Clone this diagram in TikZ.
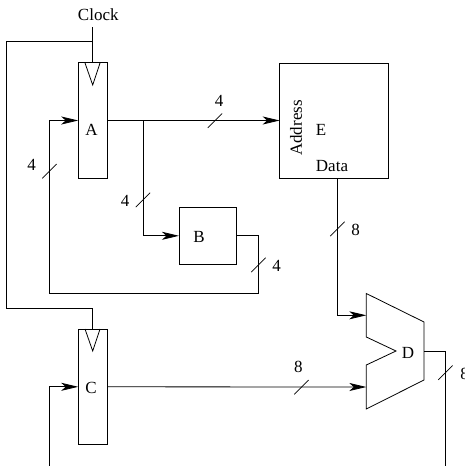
\documentclass[tikz,border=0pt]{standalone}
\usepackage{fontspec}
\setmainfont{Liberation Serif}
\usetikzlibrary{arrows.meta,calc}
\tikzset{
    wire/.style={line width=0.8pt},
    feed/.style={wire,-{Stealth[length=17pt,width=8pt,inset=4.5pt]}},
    block/.style={draw,line width=0.8pt,inner sep=0pt,outer sep=0pt},
    regbox/.style={block,minimum width=29pt,minimum height=115.5pt},
    lbl/.style={inner sep=0pt,font=\fontsize{17}{20}\selectfont},
}
\begin{document}
\begin{tikzpicture}[x=1pt,y=-1pt]
    \useasboundingbox (0,0) rectangle (465,466);

    % blocks
    \node[regbox] (A) at (92.7,120.5) {};
    \node[regbox] (C) at (92.7,386.8) {};
    \node[block,minimum width=57.7pt,minimum height=57.5pt] (B) at (207.8,235.8) {};
    \node[block,minimum width=108.3pt,minimum height=115pt] (E) at (333.8,120.5) {};

    % mux
    \coordinate (Dtop) at (366.3,315.3);
    \coordinate (Dbot) at (366.3,387);
    \coordinate (Dout) at (424,351);
    \draw[wire,line join=miter] (366.3,293.5) -- (424,322) -- (424,380) -- (366.3,409)
        -- (366.3,365) -- (396,351) -- (366.3,337) -- cycle;

    % clock triangles
    \draw[wire] (85,63) -- (92.7,85) -- (100,63);
    \draw[wire] (85,329) -- (92.7,351) -- (100,329);

    % labels
    \node[lbl] (clock) at (98.3,15) {Clock};
    \node[lbl] (Atext) at (91.5,130) {A};
    \node[lbl] (Btext) at (199,236.5) {B};
    \node[lbl] (Ctext) at (91,388) {C};
    \node[lbl] (Dtext) at (408,353) {D};
    \node[lbl] (Etext) at (321,129.5) {E};
    \node[lbl,rotate=90] (addr) at (296,128) {Address};
    \node[lbl] (data) at (332,166) {Data};

    % clock wiring
    \coordinate (clktop) at (92.7,27);
    \coordinate (clkjoin) at (92.7,41.5);
    \draw[wire] (clktop) -- (A.north);
    \draw[wire] (clkjoin) -- (6,41.5) -- (6,308) -- (92.7,308) -- (C.north);

    % buses
    \coordinate (Abranch) at (143,120.5);
    \coordinate (Eout) at (337.7,178);
    \coordinate (Cfree) at (49.5,466);
    \coordinate (Dfree) at (445.5,466);
    \draw[feed] (A.east) -- (E.west);
    \draw[feed] (Abranch) |- (B.west);
    \draw[feed] (B.east) -- (258.3,235.8) -- (258.3,293) -- (49.5,293) |- (A.west);
    \draw[feed] (Eout) |- (Dtop);
    \draw[feed] (C.east) -- (Dbot);
    \draw[feed] (Cfree) |- (C.west);
    \draw[wire] (Dout) -- (445.5,351) -- (Dfree);

    % width marks
    \foreach \x/\y in {215/120.7, 49.5/171.2, 143/199.9, 258.5/264.9,
                       337.4/228.9, 301.5/387.2, 445.5/372.7}
        \draw[line width=0.7pt] (\x-7.2,\y+7.2) -- (\x+7.2,\y-7.2);

    \node[lbl] (w1) at (219,100.5) {4};
    \node[lbl] (w2) at (31.5,165) {4};
    \node[lbl] (w3) at (125,201) {4};
    \node[lbl] (w4) at (276.7,266) {4};
    \node[lbl] (w5) at (355.7,230) {8};
    \node[lbl] (w6) at (298.3,367) {8};
    \node[lbl] (w7) at (464.5,374) {8};
\end{tikzpicture}
\end{document}
